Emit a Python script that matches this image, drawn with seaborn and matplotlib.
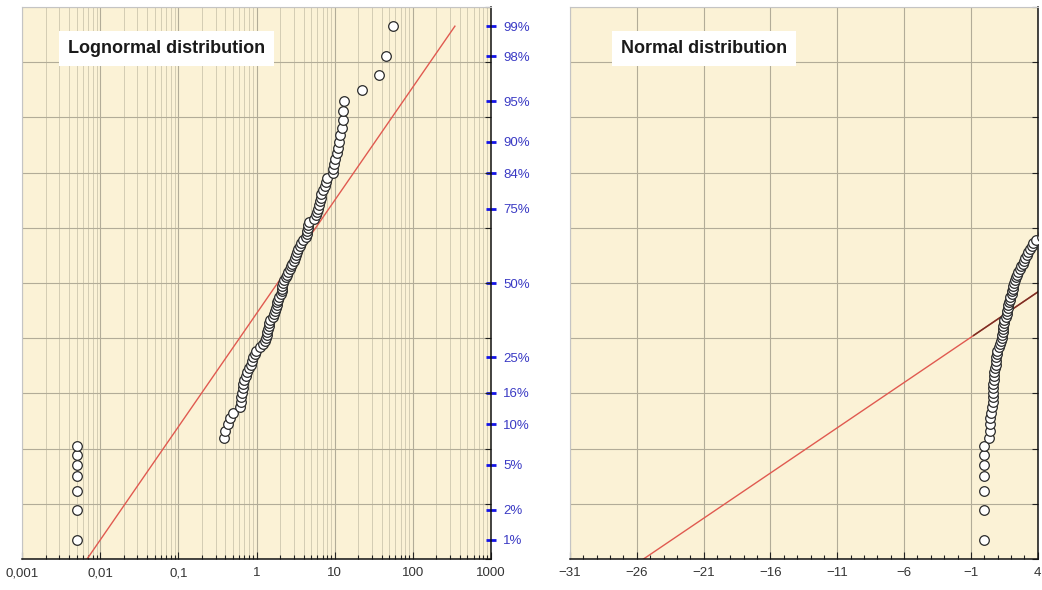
import numpy as np
import pandas as pd
import matplotlib
matplotlib.use("Agg")
import matplotlib.pyplot as plt
import matplotlib.ticker as mticker
import seaborn as sns
from statistics import NormalDist

# ---------------- data ----------------
# sorted sample values (99 observations)
values = [
    0.005, 0.005, 0.005, 0.005, 0.005, 0.005, 0.005,
    0.387, 0.40, 0.435, 0.458, 0.505, 0.615, 0.63, 0.64, 0.65, 0.665, 0.68,
    0.70, 0.73, 0.76, 0.81, 0.85, 0.88, 0.91, 0.96, 0.99, 1.11, 1.20, 1.28,
    1.32, 1.35, 1.38, 1.40, 1.43, 1.46, 1.49, 1.64, 1.69, 1.74, 1.78, 1.81,
    1.85, 1.90, 1.96, 2.04, 2.10, 2.13, 2.15, 2.20, 2.28, 2.36, 2.46, 2.56,
    2.65, 2.76, 2.87, 2.98, 3.08, 3.18, 3.30, 3.42, 3.55, 3.68, 3.88, 4.35,
    4.40, 4.45, 4.50, 4.55, 4.65, 5.5, 5.7, 5.9, 6.1, 6.3, 6.5, 6.6, 6.75,
    7.0, 7.5, 7.7, 8.05, 9.4, 9.6, 9.9, 10.2, 10.6, 10.9, 11.2, 11.7, 12.3,
    12.6, 12.7, 13.3, 22.2, 36.9, 46.0, 56.0,
]

pct_ticks = [1, 2, 5, 10, 16, 25, 50, 75, 84, 90, 95, 98, 99]
pct_labels = ["1%", "2%", "5%", "10%", "16%", "25%", "50%", "75%", "84%",
              "90%", "95%", "98%", "99%"]

log_ticks = [0.001, 0.01, 0.1, 1, 10, 100, 1000]
log_tick_labels = ["0,001", "0,01", "0,1", "1", "10", "100", "1000"]

lin_ticks = [-31, -26, -21, -16, -11, -6, -1, 4]
lin_tick_labels = ["\u221231", "\u221226", "\u221221", "\u221216", "\u221211",
                   "\u22126", "\u22121", "4"]

# fitted reference lines
lognorm_log10_median = 0.27   # log10 of median
lognorm_log10_sigma = 0.975   # decades per sigma
norm_mean = 5.0
norm_sd = 12.2
line_pct_range = [0.1, 99.0]

panel_titles = ["Lognormal distribution", "Normal distribution"]

# ---------------- derived ----------------
nd = NormalDist()
n = len(values)
plot_pos = [100.0 * (k + 1) / (n + 1) for k in range(n)]
z_pts = np.array([nd.inv_cdf(p / 100) for p in plot_pos])
z_ticks = [nd.inv_cdf(p / 100) for p in pct_ticks]
z_line = np.array([nd.inv_cdf(p / 100) for p in line_pct_range])

df = pd.DataFrame({"value": values, "z": z_pts})

BG = "#FBF2D6"
GRID_MAJ = "#B2AC98"
GRID_MIN = "#D3CCB3"

plt.rcParams["font.family"] = ["Liberation Sans", "DejaVu Sans"]

fig = plt.figure(figsize=(10.42, 5.90), dpi=100)
fig.patch.set_facecolor("white")
ax1 = fig.add_axes([22 / 1042, 31 / 590, 469 / 1042, 552 / 590])
ax2 = fig.add_axes([570 / 1042, 31 / 590, 467.7 / 1042, 552 / 590])


def style_common(ax):
    ax.set_facecolor(BG)
    ax.set_ylim(-2.5, 2.5)
    ax.set_axisbelow(True)
    for s in ["left", "top"]:
        ax.spines[s].set_color("#C4C4C4")
        ax.spines[s].set_linewidth(0.8)
    for s in ["right", "bottom"]:
        ax.spines[s].set_color("#111111")
        ax.spines[s].set_linewidth(1.1)
    ax.yaxis.tick_right()
    ax.yaxis.set_minor_locator(mticker.MultipleLocator(0.5))
    ax.yaxis.remove_overlapping_locs = False
    ax.tick_params(axis="y", which="minor", direction="in", length=4,
                   width=0.8, color="#222222", right=True, left=False)
    ax.grid(True, axis="y", which="minor", color=GRID_MAJ, linewidth=0.8)
    ax.grid(False, axis="y", which="major")
    ax.tick_params(axis="x", which="both", direction="in", colors="#222222",
                   labelcolor="#333333", labelsize=9.5, pad=6)
    ax.tick_params(axis="x", which="major", length=5, width=0.8)
    ax.tick_params(axis="x", which="minor", length=3, width=0.8)


# ---------------- left: lognormal ----------------
style_common(ax1)
ax1.set_xscale("log")
ax1.set_xlim(log_ticks[0], log_ticks[-1])
ax1.set_xticks(log_ticks)
ax1.set_xticklabels(log_tick_labels)
ax1.xaxis.set_minor_locator(mticker.LogLocator(base=10, subs=np.arange(2, 10)))
ax1.xaxis.set_minor_formatter(mticker.NullFormatter())
ax1.grid(True, axis="x", which="major", color=GRID_MAJ, linewidth=0.8)
ax1.grid(True, axis="x", which="minor", color=GRID_MIN, linewidth=0.7)

ax1.set_yticks(z_ticks)
ax1.set_yticklabels(pct_labels)
ax1.tick_params(axis="y", which="major", direction="inout", length=7.5,
                width=2.0, color="#1414E6", labelcolor="#3A3AC4",
                labelsize=9.5, pad=5, right=True, left=False)

x_logline = 10 ** (lognorm_log10_median + lognorm_log10_sigma * z_line)
sns.lineplot(x=x_logline, y=z_line, ax=ax1, color="#E05A50", linewidth=1.0,
             sort=False, estimator=None, zorder=2)
sns.scatterplot(data=df, x="value", y="z", ax=ax1, s=48, color="white",
                edgecolor="#2A2A2A", linewidth=0.9, zorder=3)
ax1.set_xlabel("")
ax1.set_ylabel("")

# ---------------- right: normal ----------------
style_common(ax2)
ax2.set_xlim(lin_ticks[0], lin_ticks[-1])
ax2.set_xticks(lin_ticks)
ax2.set_xticklabels(lin_tick_labels)
ax2.xaxis.set_minor_locator(mticker.MultipleLocator(1))
ax2.grid(True, axis="x", which="major", color=GRID_MAJ, linewidth=0.8)
ax2.set_yticks([])
ax2.tick_params(axis="y", which="minor", right=True, left=False)

x_normline = norm_mean + norm_sd * z_line
sns.lineplot(x=x_normline, y=z_line, ax=ax2, color="#E05A50", linewidth=1.0,
             sort=False, estimator=None, zorder=2)
# darker part of the fit line across the data range
x_dark = np.array([min(values) - 0.8, lin_ticks[-1]])
z_dark = (x_dark - norm_mean) / norm_sd
sns.lineplot(x=x_dark, y=z_dark, ax=ax2, color="#7A3024", linewidth=1.1,
             sort=False, estimator=None, zorder=2)
sns.scatterplot(data=df, x="value", y="z", ax=ax2, s=48, color="white",
                edgecolor="#2A2A2A", linewidth=0.9, zorder=3)
ax2.set_xlabel("")
ax2.set_ylabel("")

# ---------------- titles ----------------
for ax, title, xpos in [(ax1, panel_titles[0], 0.098), (ax2, panel_titles[1], 0.109)]:
    ax.text(xpos, 0.925, title, transform=ax.transAxes, ha="left", va="center",
            fontsize=13, fontweight="bold", color="#1A1A1A",
            family=["Liberation Sans", "DejaVu Sans"], zorder=5,
            bbox=dict(boxstyle="square,pad=0.48", facecolor="white",
                      edgecolor="none"))

fig.savefig("out.png", dpi=100, facecolor="white")
